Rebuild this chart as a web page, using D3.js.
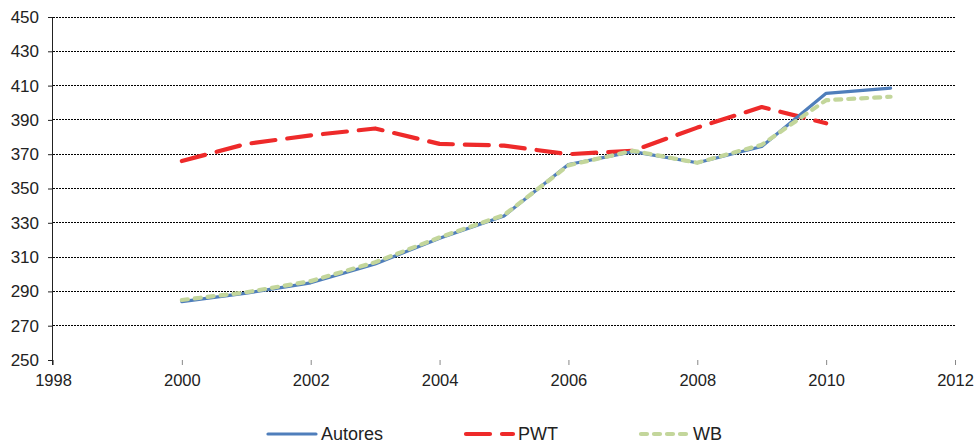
<!DOCTYPE html>
<html>
<head>
<meta charset="utf-8">
<script src="https://cdn.jsdelivr.net/npm/d3@7"></script>
<style>
  html, body { margin: 0; padding: 0; background: #fff; }
  svg { display: block; font-family: "Liberation Sans", Arial, sans-serif; }
</style>
</head>
<body>
<svg id="chart" width="977" height="445"></svg>
<script>
// Years and series values
const years = [2000, 2001, 2002, 2003, 2004, 2005, 2006, 2007, 2008, 2009, 2010, 2011];
const autores = [284, 289, 295, 306, 321, 334, 364, 371.5, 365, 374.5, 405.5, 408.5];
const pwt = [366, 376, 381, 385, 376, 375, 370, 372, 385.5, 397.5, 388];
const wb = [285, 289.5, 296, 307, 321.5, 334.5, 363.5, 372, 365, 375.5, 401.5, 403.5];

const xTicks = [1998, 2000, 2002, 2004, 2006, 2008, 2010, 2012];
const yTicks = [250, 270, 290, 310, 330, 350, 370, 390, 410, 430, 450];

const seriesNames = ["Autores", "PWT", "WB"];

const svg = d3.select("#chart");

const x = d3.scaleLinear().domain([1998, 2012]).range([53, 955]);
const y = d3.scaleLinear().domain([250, 450]).range([360, 17]);

// Horizontal gridlines (no line at the baseline)
svg.append("g")
  .selectAll("line")
  .data(yTicks.filter(d => d > 250))
  .join("line")
  .attr("x1", x(1998)).attr("x2", x(2012))
  .attr("y1", d => y(d)).attr("y2", d => y(d))
  .attr("stroke", "#000")
  .attr("stroke-width", 1)
  .attr("stroke-dasharray", "2,1")
  .attr("shape-rendering", "crispEdges");

// Y axis
const yAxis = svg.append("g")
  .attr("transform", `translate(${x(1998)},0)`)
  .call(d3.axisLeft(y).tickValues(yTicks).tickSize(5).tickPadding(9).tickFormat(d3.format("d")));
yAxis.select(".domain").attr("stroke", "#222").attr("d", `M-0.5,${y(450)}V${y(250) + 5}`);
yAxis.selectAll(".tick line").attr("stroke", "#222");
yAxis.selectAll("text")
  .attr("font-size", 17)
  .attr("fill", "#222")
  .attr("font-family", "'Liberation Sans', Arial, sans-serif");

// X axis (ticks only, no baseline)
const xAxis = svg.append("g")
  .attr("transform", `translate(0,${y(250)})`)
  .call(d3.axisBottom(x).tickValues(xTicks).tickSize(5).tickPadding(9).tickFormat(d3.format("d")));
xAxis.select(".domain").remove();
xAxis.selectAll(".tick line").attr("stroke", "#888");
xAxis.selectAll("text")
  .attr("font-size", 16.5)
  .attr("fill", "#222")
  .attr("font-family", "'Liberation Sans', Arial, sans-serif");

const line = d3.line()
  .x((d, i) => x(years[i]))
  .y(d => y(d));

const styles = {
  Autores: { color: "#4F7EBB", width: 3.2, dash: null, cap: "round" },
  PWT: { color: "#EE2A2A", width: 4.2, dash: "24,12", cap: "round" },
  WB: { color: "#C3D69B", width: 4.2, dash: "6,7", cap: "round" }
};
const data = { Autores: autores, PWT: pwt, WB: wb };

["PWT", "Autores", "WB"].forEach(name => {
  const s = styles[name];
  svg.append("path")
    .datum(data[name])
    .attr("d", line)
    .attr("fill", "none")
    .attr("stroke", s.color)
    .attr("stroke-width", s.width)
    .attr("stroke-linecap", s.cap)
    .attr("stroke-linejoin", "round")
    .attr("stroke-dasharray", s.dash);
});

// Legend
const legendItems = [
  { name: "Autores", x0: 268, x1: 316 },
  { name: "PWT", x0: 466, x1: 513 },
  { name: "WB", x0: 641, x1: 688 }
];
const legendY = 434;
const lg = svg.append("g");
legendItems.forEach(it => {
  const s = styles[it.name];
  lg.append("line")
    .attr("x1", it.x0).attr("x2", it.x1)
    .attr("y1", legendY).attr("y2", legendY)
    .attr("stroke", s.color)
    .attr("stroke-width", s.width)
    .attr("stroke-linecap", s.cap)
    .attr("stroke-dasharray", s.dash);
  lg.append("text")
    .attr("x", it.x1 + 5)
    .attr("y", legendY)
    .attr("dy", "0.36em")
    .attr("font-size", 18)
    .attr("fill", "#222")
    .text(it.name);
});
</script>
</body>
</html>
